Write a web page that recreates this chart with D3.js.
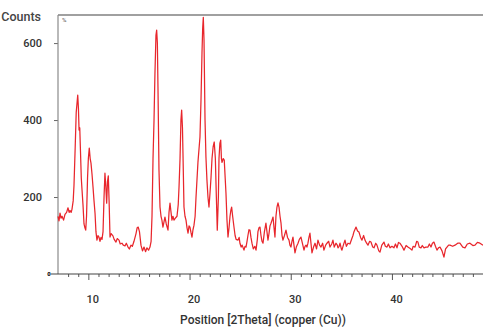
<!DOCTYPE html>
<html>
<head>
<meta charset="utf-8">
<script src="https://cdn.jsdelivr.net/npm/d3@7"></script>
<style>
html,body{margin:0;padding:0;background:#fff;overflow:hidden;}
svg{display:block;}
</style>
</head>
<body>
<svg id="chart" width="483" height="329"></svg>
<script>
const twoTheta = [7.00,7.10,7.20,7.30,7.40,7.55,7.69,7.85,7.99,8.10,8.19,8.30,8.38,8.50,8.58,8.70,8.80,8.90,8.95,9.02,9.08,9.15,9.22,9.30,9.37,9.47,9.57,9.66,9.74,9.82,9.92,10.00,10.09,10.18,10.26,10.36,10.46,10.56,10.66,10.75,10.85,10.95,11.05,11.15,11.25,11.35,11.45,11.55,11.64,11.72,11.81,11.89,11.97,12.05,12.14,12.25,12.43,12.55,12.73,12.85,13.03,13.15,13.32,13.45,13.62,13.75,13.92,14.05,14.21,14.35,14.51,14.71,14.82,14.93,15.05,15.20,15.35,15.50,15.65,15.79,15.95,16.09,16.20,16.29,16.39,16.49,16.58,16.68,16.75,16.82,16.88,16.98,17.08,17.18,17.27,17.37,17.47,17.57,17.70,17.87,17.97,18.07,18.15,18.26,18.36,18.46,18.60,18.76,18.88,18.96,19.06,19.15,19.22,19.30,19.35,19.45,19.55,19.65,19.75,19.85,19.95,20.04,20.14,20.24,20.34,20.44,20.55,20.64,20.83,21.03,21.13,21.23,21.30,21.36,21.43,21.53,21.62,21.72,21.82,21.92,22.02,22.12,22.22,22.33,22.44,22.55,22.65,22.74,22.85,22.91,23.00,23.08,23.15,23.21,23.33,23.43,23.52,23.60,23.70,23.80,23.90,24.00,24.08,24.16,24.26,24.39,24.50,24.60,24.79,24.90,24.98,25.10,25.20,25.38,25.48,25.58,25.68,25.77,25.87,25.97,26.07,26.17,26.30,26.45,26.57,26.70,26.76,26.86,26.96,27.06,27.16,27.26,27.40,27.55,27.65,27.75,27.85,27.95,28.05,28.15,28.25,28.35,28.44,28.54,28.64,28.74,28.84,28.94,29.04,29.14,29.23,29.38,29.53,29.68,29.83,29.92,30.02,30.12,30.22,30.32,30.42,30.55,30.72,30.85,31.01,31.15,31.31,31.41,31.51,31.60,31.70,31.80,31.90,32.00,32.10,32.25,32.40,32.55,32.69,32.85,32.99,33.15,33.28,33.45,33.58,33.75,33.88,34.05,34.17,34.30,34.47,34.60,34.67,34.78,34.87,35.00,35.06,35.20,35.36,35.50,35.66,35.85,36.05,36.15,36.25,36.45,36.60,36.74,36.90,37.04,37.20,37.34,37.50,37.63,37.80,37.93,38.10,38.23,38.40,38.52,38.70,38.82,39.00,39.21,39.35,39.51,39.65,39.81,40.00,40.20,40.35,40.50,40.65,40.79,41.00,41.19,41.40,41.58,41.80,41.98,42.10,42.28,42.45,42.57,42.70,42.87,43.00,43.17,43.35,43.56,43.70,43.86,44.00,44.15,44.30,44.45,44.60,44.75,44.95,45.14,45.30,45.44,45.60,45.74,46.00,46.23,46.50,46.72,47.00,47.22,47.45,47.71,48.00,48.21,48.45,48.70,49.00];
const counts = [150,138,158,145,150,140,155,160,172,160,165,160,168,190,230,330,420,450,465,430,374,380,320,250,220,180,130,120,114,150,250,300,327,300,288,260,226,190,158,110,88,100,96,85,95,90,110,200,262,230,184,240,255,190,96,105,99,90,83,92,88,78,80,75,73,80,70,65,75,72,85,105,120,122,110,75,60,70,58,68,62,70,85,150,300,400,520,620,634,600,486,270,174,150,140,122,135,148,130,114,160,184,165,140,150,140,145,150,180,226,300,400,426,380,314,174,150,140,120,106,125,122,108,96,115,127,150,200,290,356,450,574,640,667,608,400,304,244,200,174,210,250,300,330,343,300,200,114,200,300,340,348,300,290,300,296,250,210,140,96,120,150,165,174,150,122,100,90,88,95,80,70,75,62,72,70,85,100,115,114,95,80,65,72,62,90,110,120,122,100,85,80,110,132,110,88,105,125,132,140,148,120,96,150,174,185,174,150,132,100,88,100,114,95,88,75,70,85,96,75,55,70,80,90,96,80,62,72,75,70,80,95,106,80,55,70,80,65,88,75,70,80,62,75,80,85,70,78,88,70,80,75,68,72,80,65,62,75,88,72,80,78,93,100,110,122,112,109,95,88,100,88,80,75,85,83,70,68,80,75,60,57,75,83,72,70,78,68,72,68,78,68,82,80,72,62,74,70,66,62,72,70,85,83,70,68,74,68,70,70,78,70,80,83,72,62,68,70,60,44,65,70,75,75,72,75,80,80,70,68,78,80,74,75,82,80,75];
const xTickValues = [10,20,30,40];
const yTickValues = [0,200,400,600];
const yTitle = "Counts";
const xTitle = "Position [2Theta] (copper (Cu))";

(function(){
const svg = d3.select("#chart");
const mLeft = 58, mRight = 483, mTop = 15, mBottom = 274;
const x = d3.scaleLinear().domain([7, 49]).range([mLeft, mRight]);
const y = d3.scaleLinear().domain([0, 673]).range([mBottom, mTop]);
const font = "Roboto, 'DejaVu Sans', sans-serif";

// top border
svg.append("line").attr("x1", mLeft).attr("x2", mRight).attr("y1", mTop).attr("y2", mTop)
  .attr("stroke", "#a0a0a0").attr("stroke-width", 2);

// left axis
const yAxis = d3.axisLeft(y).tickValues(yTickValues.filter(d => d > 0)).tickSize(4).tickFormat(d3.format("d"));
const gy = svg.append("g").attr("transform", `translate(${mLeft},0)`).call(yAxis);
gy.select(".domain").remove();
gy.selectAll(".tick line").attr("stroke", "#666");
gy.selectAll(".tick text").attr("x", -16).attr("font-family", font).attr("font-size", 11)
  .attr("fill", "#333").attr("font-weight", 500);
svg.append("line").attr("x1", mLeft).attr("x2", mLeft).attr("y1", mTop).attr("y2", mBottom)
  .attr("stroke", "#8a8a8a").attr("stroke-width", 1.2);
// zero label (tiny)
svg.append("text").attr("x", 49).attr("y", y(0)).attr("dy", "0.35em").attr("text-anchor", "middle")
  .attr("font-family", font).attr("font-size", 6).attr("font-weight", 900).attr("fill", "#111")
  .text(yTickValues[0]);

// bottom axis with minor ticks
const minor = d3.range(8, 49, 1).filter(v => !xTickValues.includes(v));
svg.append("g").attr("transform", `translate(0,${mBottom})`)
  .call(d3.axisBottom(x).tickValues(minor).tickSize(3).tickFormat(""))
  .call(g => g.select(".domain").remove())
  .selectAll(".tick line").attr("stroke", "#555");
const gx = svg.append("g").attr("transform", `translate(0,${mBottom})`)
  .call(d3.axisBottom(x).tickValues(xTickValues).tickSize(6).tickFormat(d3.format("d")));
gx.select(".domain").remove();
gx.selectAll(".tick line").attr("stroke", "#555");
gx.selectAll(".tick text").attr("dx", 4).attr("y", 21).attr("font-family", font).attr("font-size", 11)
  .attr("fill", "#333").attr("font-weight", 500);
svg.append("line").attr("x1", 51).attr("x2", mRight).attr("y1", mBottom).attr("y2", mBottom)
  .attr("stroke", "#444").attr("stroke-width", 1.2);

// data line
const line = d3.line().x((d, i) => x(twoTheta[i])).y(d => y(d));
svg.append("path").datum(counts).attr("d", line).attr("fill", "none")
  .attr("stroke", "#e8262c").attr("stroke-width", 1.25).attr("stroke-linejoin", "round");

// titles
svg.append("text").attr("x", 41).attr("y", 21).attr("text-anchor", "end")
  .attr("font-family", font).attr("font-size", 12.5).attr("fill", "#444").attr("font-weight", 500).text(yTitle);
svg.append("text").attr("x", 263).attr("y", 324).attr("text-anchor", "middle")
  .attr("font-family", font).attr("font-size", 12).attr("fill", "#333").attr("font-weight", 500).text(xTitle);
svg.append("text").attr("x", 62).attr("y", 22).attr("font-family", font).attr("font-size", 6)
  .attr("fill", "#555").text("%");
})();
</script>
</body>
</html>
